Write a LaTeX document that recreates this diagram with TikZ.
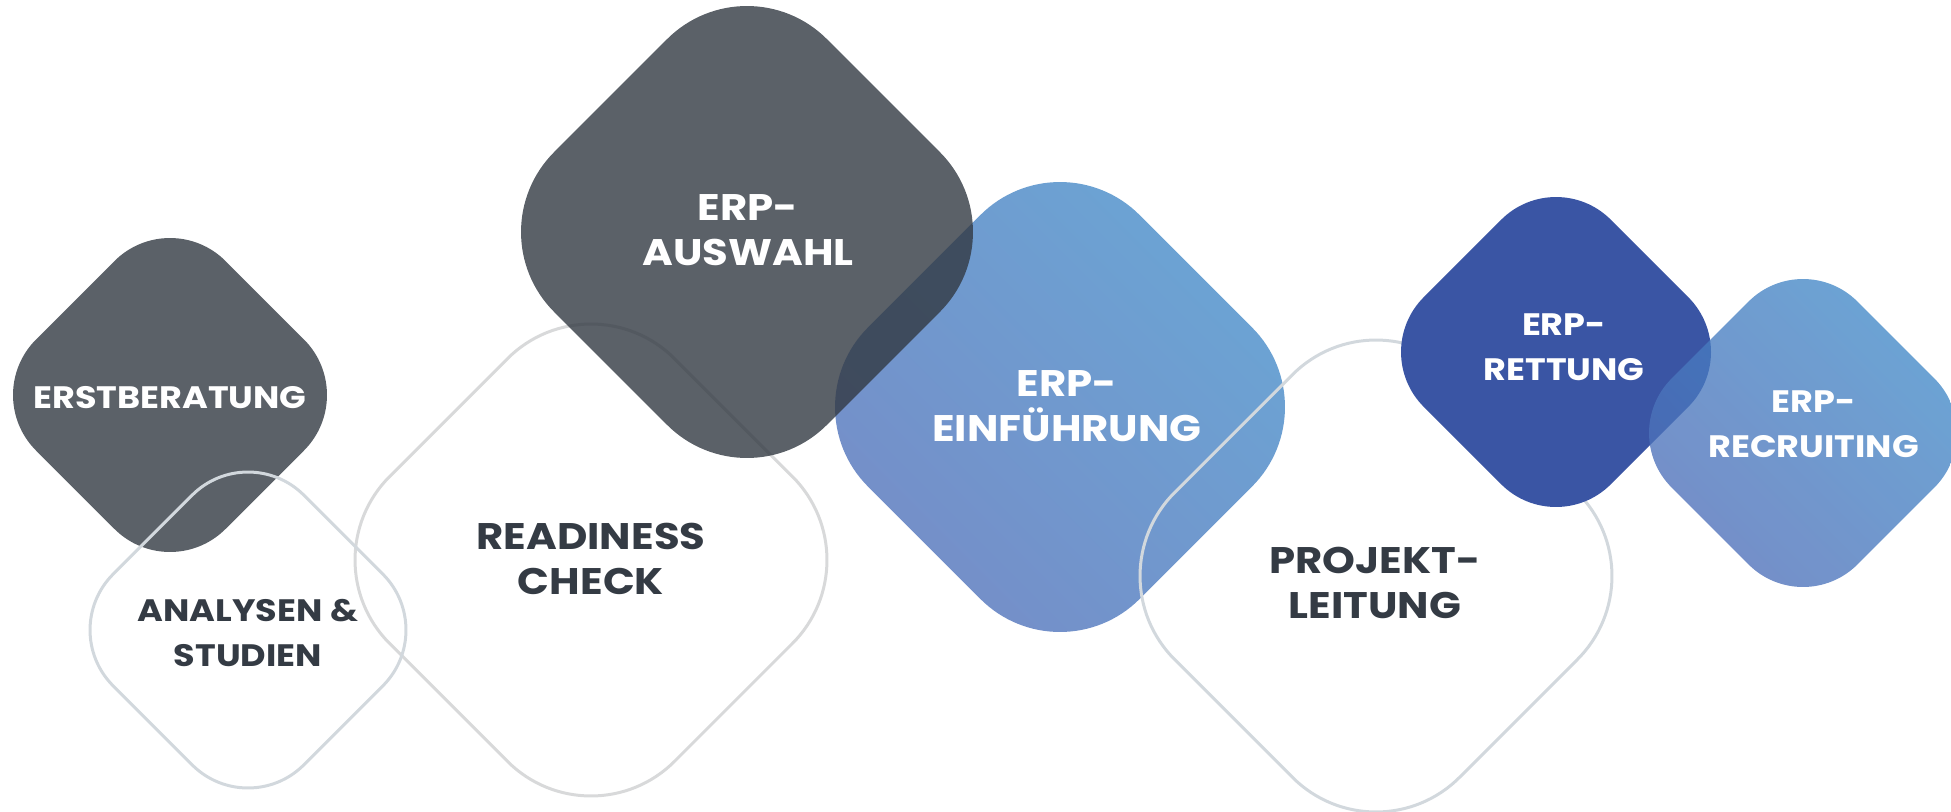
\documentclass[tikz,border=0pt]{standalone}
\usepackage{fontspec}
\setmainfont{Poppins}[FakeStretch=1.13]
\usetikzlibrary{calc,shadings}
\definecolor{darkfill}{RGB}{50,57,66}
\definecolor{txtdark}{RGB}{52,59,68}
\definecolor{lineA}{RGB}{216,217,218}
\definecolor{lineB}{RGB}{210,216,221}
\definecolor{bUR}{RGB}{104,172,216}
\definecolor{bLL}{RGB}{120,134,196}
\definecolor{bMID}{RGB}{112,153,206}
\definecolor{tUR}{RGB}{62,149,205}
\definecolor{tLL}{RGB}{82,100,179}
\definecolor{tMID}{RGB}{72,124,192}
\definecolor{rett}{RGB}{58,85,164}
\newcommand\rdshape[4]{%
  \pgfmathsetmacro\dd{1.207*#4}\pgfmathsetmacro\rr{0.5*#4}%
  \path[#1, rounded corners=\rr pt] ({#2-\dd/2},{#3-\dd/2}) -- ({#2},{#3-\dd}) -- ({#2+\dd},{#3}) -- ({#2},{#3+\dd}) -- ({#2-\dd},{#3}) -- ({#2-\dd/2},{#3-\dd/2});}
\tikzset{
  outlineA/.style={draw=lineA, line width=3pt},
  outlineB/.style={draw=lineB, line width=3pt},
  darkshape/.style={fill=darkfill, fill opacity=0.8},
  blueshade/.style={shade, upper right=bUR, lower left=bLL, upper left=bMID, lower right=bMID},
  bluetrans/.style={shade, upper right=tUR, lower left=tLL, upper left=tMID, lower right=tMID, opacity=0.78},
  rettshape/.style={fill=rett},
  bigtxt/.style={align=center, inner sep=0pt, font=\bfseries\fontsize{37}{45}\selectfont},
  smalltxt/.style={align=center, inner sep=0pt, font=\bfseries\fontsize{31}{45}\selectfont},
}
\begin{document}
\begin{tikzpicture}[x=1pt,y=-1pt]
\useasboundingbox (0,0) rectangle (1951,811);
% shapes, bottom to top
\rdshape{outlineA}{591}{560}{236}
\rdshape{darkshape}{170}{395}{157}
\rdshape{outlineB}{248}{630}{158}
\rdshape{blueshade}{1060}{407}{225}
\rdshape{darkshape}{747}{232}{226}
\rdshape{outlineB}{1376}{576}{236}
\rdshape{rettshape}{1556}{352}{155}
\rdshape{bluetrans}{1803}{433}{154}
% texts
\node[smalltxt, text=white] (t1) at (170,397.5) {ERSTBERATUNG};
\node[smalltxt, text=txtdark] (t2) at (248,633.5) {ANALYSEN \&\\STUDIEN};
\node[bigtxt, text=txtdark] (t3) at (591,559) {READINESS\\CHECK};
\node[bigtxt, text=white] (t4) at (748,230) {ERP-\\AUSWAHL};
\node[bigtxt, text=white] (t5) at (1067,406) {ERP-\\EINFÜHRUNG};
\node[bigtxt, text=txtdark] (t6) at (1375,582.5) {PROJEKT-\\LEITUNG};
\node[smalltxt, text=white] (t7) at (1564,347.5) {ERP-\\RETTUNG};
\node[smalltxt, text=white] (t8) at (1813.5,424.5) {ERP-\\RECRUITING};
\end{tikzpicture}
\end{document}
